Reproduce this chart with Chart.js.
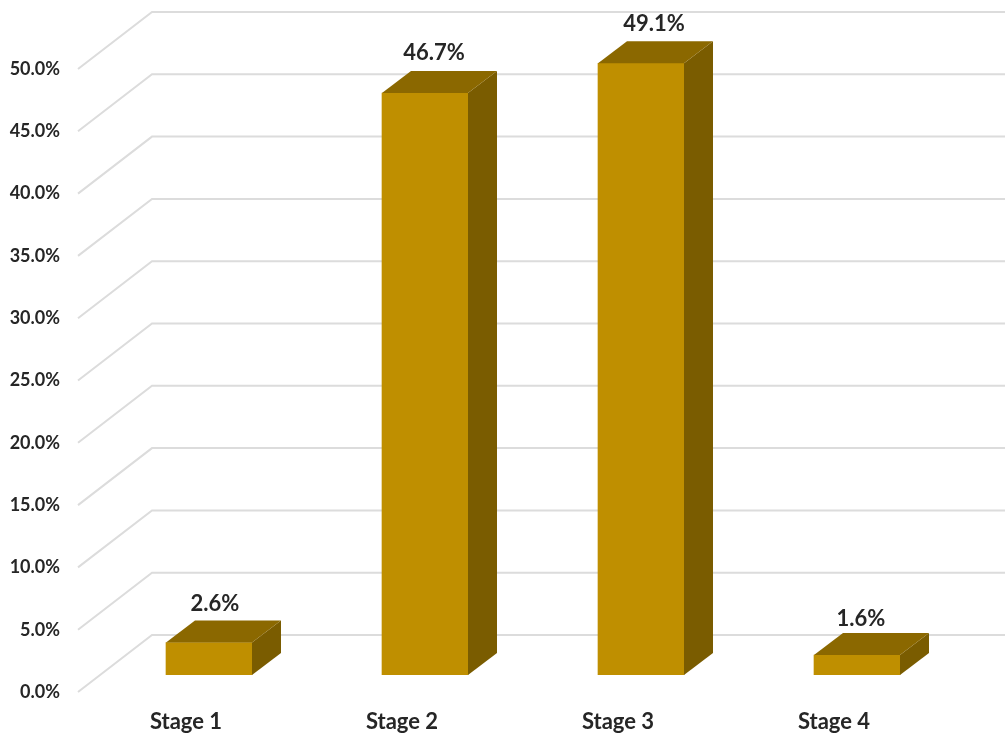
<!DOCTYPE html>
<html>
<head>
<meta charset="utf-8">
<title>Stages</title>
<script src="https://cdn.jsdelivr.net/npm/chart.js@4"></script>
<style>
  body { margin: 0; background: #fff; overflow: hidden; }
  canvas { display: block; }
</style>
</head>
<body>
<canvas id="barChart" width="1005" height="733"></canvas>
<script>
const categories = ['Stage 1', 'Stage 2', 'Stage 3', 'Stage 4'];
const shares = [2.6, 46.7, 49.1, 1.6];
const yTicks = [0, 5, 10, 15, 20, 25, 30, 35, 40, 45, 50];

const FRONT = '#bf8f00';
const TOP = '#8b6800';
const SIDE = '#7a5c00';
const TEXT = '#262626';
const GRID = '#dcdcdc';
const FONT = 'Lato, Carlito, sans-serif';

// fake depth, the bars themselves are normal chart.js bars
const barDepth = { x: 29, y: 22 };
const wall = { left: 78, back: 152, front: 17, rear: -40 };

// value labels sit a little differently over each bar
const labelShiftX = [6, 9, 13, 4];
const labelShiftY = [39, 40, 39, 36];

const walls = {
    id: 'walls',
    beforeDatasetsDraw(chart) {
        const { ctx, width, scales: { y } } = chart;
        ctx.save();
        ctx.strokeStyle = GRID;
        ctx.lineWidth = 2;
        y.ticks.forEach(t => {
            const py = y.getPixelForValue(t.value);
            ctx.beginPath();
            ctx.moveTo(wall.left, py + wall.front);
            ctx.lineTo(wall.back, py + wall.rear);
            ctx.lineTo(width, py + wall.rear);
            ctx.stroke();
        });
        ctx.restore();
    }
};

const bars3d = {
    id: 'bars3d',
    afterDatasetsDraw(chart) {
        const { ctx } = chart;
        const { x: dx, y: dy } = barDepth;
        ctx.save();
        chart.getDatasetMeta(0).data.forEach((bar, i) => {
            const l = bar.x - bar.width / 2;
            const r = bar.x + bar.width / 2;

            ctx.fillStyle = SIDE;
            ctx.beginPath();
            ctx.moveTo(r, bar.y);
            ctx.lineTo(r + dx, bar.y - dy);
            ctx.lineTo(r + dx, bar.base - dy);
            ctx.lineTo(r, bar.base);
            ctx.closePath();
            ctx.fill();

            ctx.fillStyle = TOP;
            ctx.beginPath();
            ctx.moveTo(l, bar.y);
            ctx.lineTo(l + dx, bar.y - dy);
            ctx.lineTo(r + dx, bar.y - dy);
            ctx.lineTo(r, bar.y);
            ctx.closePath();
            ctx.fill();

            ctx.fillStyle = TEXT;
            ctx.font = 'bold 22px ' + FONT;
            ctx.textAlign = 'center';
            ctx.textBaseline = 'middle';
            ctx.fillText(shares[i].toFixed(1) + '%', bar.x + labelShiftX[i], bar.y - labelShiftY[i]);
        });
        ctx.restore();
    }
};

new Chart(document.getElementById('barChart'), {
    type: 'bar',
    data: {
        labels: categories,
        datasets: [{
            label: 'Share',
            data: shares,
            backgroundColor: FRONT,
            borderWidth: 0,
            barThickness: 86
        }]
    },
    options: {
        responsive: false,
        animation: false,
        layout: { padding: { top: 52, right: 40, left: 0, bottom: 0 } },
        plugins: { legend: { display: false }, tooltip: { enabled: false } },
        scales: {
            x: {
                grid: { display: false },
                border: { display: false },
                afterFit: s => { s.height = 58; },
                ticks: {
                    color: TEXT,
                    font: { family: FONT, size: 22, weight: 'bold' },
                    labelOffset: -23,
                    padding: 26,
                    maxRotation: 0
                }
            },
            y: {
                min: 0,
                max: 50,
                grid: { display: false },
                border: { display: false },
                afterFit: s => { s.width = 101; },
                afterBuildTicks: s => { s.ticks = yTicks.map(v => ({ value: v })); },
                ticks: {
                    color: TEXT,
                    font: { family: FONT, size: 18, weight: 'bold' },
                    labelOffset: 17,
                    padding: 33,
                    callback: v => v.toFixed(1) + '%'
                }
            }
        }
    },
    plugins: [walls, bars3d]
});
</script>
</body>
</html>
